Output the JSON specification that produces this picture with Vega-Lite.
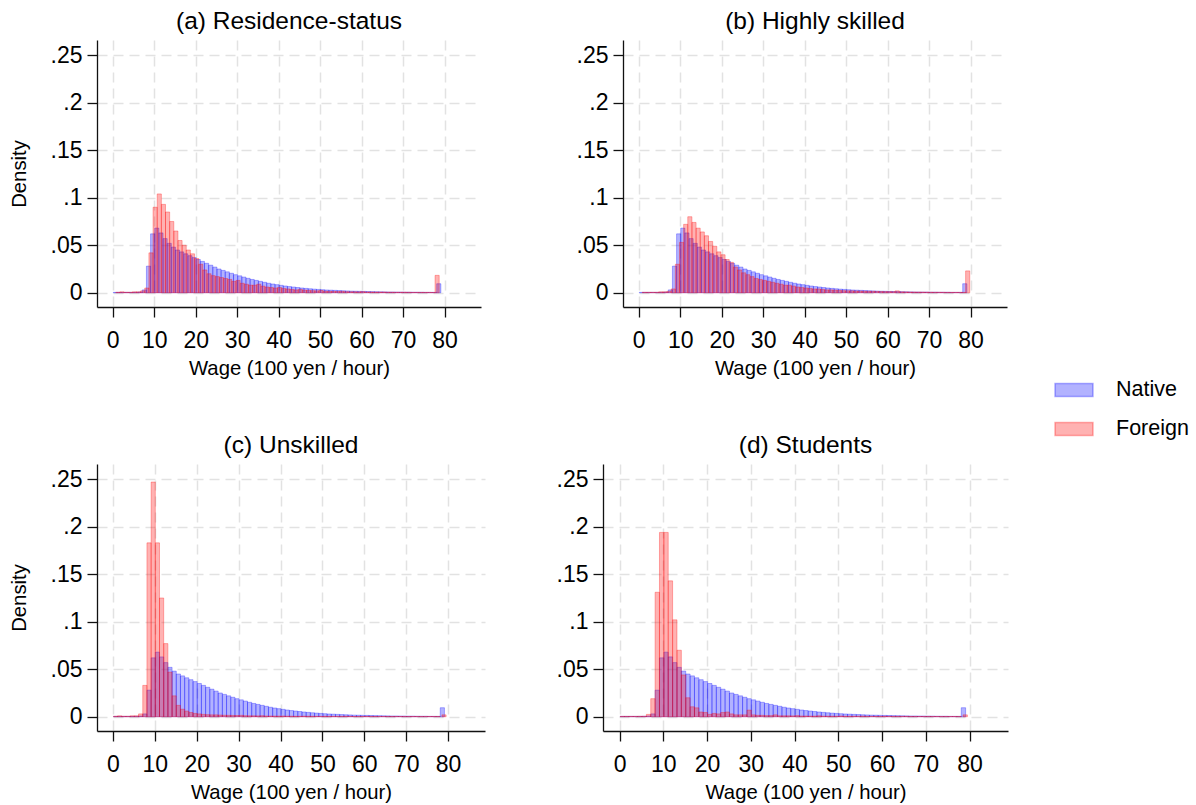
{
"$schema": "https://vega.github.io/schema/vega-lite/v6.json",
"padding": {"left": 9, "top": 8, "right": 5, "bottom": 5},
"background": "white",
"datasets": {
"nat": [
{"s":"Native","x":0,"d":0.0004},{"s":"Native","x":1,"d":0.0004},{"s":"Native","x":2,"d":0.0004},{"s":"Native","x":3,"d":0.0004},{"s":"Native","x":4,"d":0.0004},{"s":"Native","x":5,"d":0.0005},{"s":"Native","x":6,"d":0.0008},{"s":"Native","x":7,"d":0.003},{"s":"Native","x":8,"d":0.028},{"s":"Native","x":9,"d":0.062},
{"s":"Native","x":10,"d":0.068},{"s":"Native","x":11,"d":0.063},{"s":"Native","x":12,"d":0.057},{"s":"Native","x":13,"d":0.052},{"s":"Native","x":14,"d":0.048},{"s":"Native","x":15,"d":0.045},{"s":"Native","x":16,"d":0.043},{"s":"Native","x":17,"d":0.041},{"s":"Native","x":18,"d":0.039},{"s":"Native","x":19,"d":0.037},
{"s":"Native","x":20,"d":0.035},{"s":"Native","x":21,"d":0.033},{"s":"Native","x":22,"d":0.031},{"s":"Native","x":23,"d":0.029},{"s":"Native","x":24,"d":0.027},{"s":"Native","x":25,"d":0.025},{"s":"Native","x":26,"d":0.0235},{"s":"Native","x":27,"d":0.022},{"s":"Native","x":28,"d":0.0205},{"s":"Native","x":29,"d":0.019},
{"s":"Native","x":30,"d":0.0178},{"s":"Native","x":31,"d":0.0165},{"s":"Native","x":32,"d":0.0152},{"s":"Native","x":33,"d":0.014},{"s":"Native","x":34,"d":0.013},{"s":"Native","x":35,"d":0.012},{"s":"Native","x":36,"d":0.011},{"s":"Native","x":37,"d":0.01},{"s":"Native","x":38,"d":0.0092},{"s":"Native","x":39,"d":0.0085},
{"s":"Native","x":40,"d":0.0078},{"s":"Native","x":41,"d":0.0071},{"s":"Native","x":42,"d":0.0065},{"s":"Native","x":43,"d":0.006},{"s":"Native","x":44,"d":0.0055},{"s":"Native","x":45,"d":0.005},{"s":"Native","x":46,"d":0.0046},{"s":"Native","x":47,"d":0.0042},{"s":"Native","x":48,"d":0.0038},{"s":"Native","x":49,"d":0.0035},
{"s":"Native","x":50,"d":0.0032},{"s":"Native","x":51,"d":0.0029},{"s":"Native","x":52,"d":0.0027},{"s":"Native","x":53,"d":0.0025},{"s":"Native","x":54,"d":0.0023},{"s":"Native","x":55,"d":0.0021},{"s":"Native","x":56,"d":0.0019},{"s":"Native","x":57,"d":0.0017},{"s":"Native","x":58,"d":0.0016},{"s":"Native","x":59,"d":0.0015},
{"s":"Native","x":60,"d":0.0014},{"s":"Native","x":61,"d":0.0013},{"s":"Native","x":62,"d":0.0012},{"s":"Native","x":63,"d":0.0011},{"s":"Native","x":64,"d":0.001},{"s":"Native","x":65,"d":0.0009},{"s":"Native","x":66,"d":0.0008},{"s":"Native","x":67,"d":0.0008},{"s":"Native","x":68,"d":0.0007},{"s":"Native","x":69,"d":0.0007},
{"s":"Native","x":70,"d":0.0006},{"s":"Native","x":71,"d":0.0006},{"s":"Native","x":72,"d":0.0005},{"s":"Native","x":73,"d":0.0005},{"s":"Native","x":74,"d":0.0005},{"s":"Native","x":75,"d":0.0004},{"s":"Native","x":76,"d":0.0004},{"s":"Native","x":77,"d":0.0004},{"s":"Native","x":78,"d":0.0095}
],
"fa": [
{"s":"Foreign","x":0.6,"d":0.0005},{"s":"Foreign","x":1.6,"d":0.001},{"s":"Foreign","x":2.6,"d":0.0005},{"s":"Foreign","x":3.6,"d":0.0005},{"s":"Foreign","x":4.6,"d":0.001},{"s":"Foreign","x":5.6,"d":0.001},{"s":"Foreign","x":6.6,"d":0.002},{"s":"Foreign","x":7.6,"d":0.005},{"s":"Foreign","x":8.6,"d":0.042},{"s":"Foreign","x":9.6,"d":0.09},
{"s":"Foreign","x":10.6,"d":0.104},{"s":"Foreign","x":11.6,"d":0.093},{"s":"Foreign","x":12.6,"d":0.085},{"s":"Foreign","x":13.6,"d":0.075},{"s":"Foreign","x":14.6,"d":0.065},{"s":"Foreign","x":15.6,"d":0.055},{"s":"Foreign","x":16.6,"d":0.05},{"s":"Foreign","x":17.6,"d":0.045},{"s":"Foreign","x":18.6,"d":0.041},{"s":"Foreign","x":19.6,"d":0.036},
{"s":"Foreign","x":20.6,"d":0.03},{"s":"Foreign","x":21.6,"d":0.024},{"s":"Foreign","x":22.6,"d":0.02},{"s":"Foreign","x":23.6,"d":0.018},{"s":"Foreign","x":24.6,"d":0.017},{"s":"Foreign","x":25.6,"d":0.016},{"s":"Foreign","x":26.6,"d":0.015},{"s":"Foreign","x":27.6,"d":0.014},{"s":"Foreign","x":28.6,"d":0.012},{"s":"Foreign","x":29.6,"d":0.013},
{"s":"Foreign","x":30.6,"d":0.01},{"s":"Foreign","x":31.6,"d":0.009},{"s":"Foreign","x":32.6,"d":0.008},{"s":"Foreign","x":33.6,"d":0.008},{"s":"Foreign","x":34.6,"d":0.009},{"s":"Foreign","x":35.6,"d":0.007},{"s":"Foreign","x":36.6,"d":0.006},{"s":"Foreign","x":37.6,"d":0.0055},{"s":"Foreign","x":38.6,"d":0.005},{"s":"Foreign","x":39.6,"d":0.0055},
{"s":"Foreign","x":40.6,"d":0.0045},{"s":"Foreign","x":41.6,"d":0.004},{"s":"Foreign","x":42.6,"d":0.0035},{"s":"Foreign","x":43.6,"d":0.003},{"s":"Foreign","x":44.6,"d":0.0035},{"s":"Foreign","x":45.6,"d":0.0028},{"s":"Foreign","x":46.6,"d":0.0025},{"s":"Foreign","x":47.6,"d":0.0022},{"s":"Foreign","x":48.6,"d":0.002},{"s":"Foreign","x":49.6,"d":0.0024},
{"s":"Foreign","x":50.6,"d":0.0016},{"s":"Foreign","x":51.6,"d":0.0015},{"s":"Foreign","x":52.6,"d":0.0014},{"s":"Foreign","x":53.6,"d":0.0013},{"s":"Foreign","x":54.6,"d":0.0015},{"s":"Foreign","x":55.6,"d":0.0011},{"s":"Foreign","x":56.6,"d":0.001},{"s":"Foreign","x":57.6,"d":0.001},{"s":"Foreign","x":58.6,"d":0.0009},{"s":"Foreign","x":59.6,"d":0.0012},
{"s":"Foreign","x":60.6,"d":0.0008},{"s":"Foreign","x":61.6,"d":0.0008},{"s":"Foreign","x":62.6,"d":0.0007},{"s":"Foreign","x":63.6,"d":0.0007},{"s":"Foreign","x":64.6,"d":0.0008},{"s":"Foreign","x":65.6,"d":0.0006},{"s":"Foreign","x":66.6,"d":0.0006},{"s":"Foreign","x":67.6,"d":0.0005},{"s":"Foreign","x":68.6,"d":0.0005},{"s":"Foreign","x":69.6,"d":0.0006},
{"s":"Foreign","x":70.6,"d":0.0005},{"s":"Foreign","x":71.6,"d":0.0004},{"s":"Foreign","x":72.6,"d":0.0004},{"s":"Foreign","x":73.6,"d":0.0004},{"s":"Foreign","x":74.6,"d":0.0004},{"s":"Foreign","x":75.6,"d":0.0004},{"s":"Foreign","x":76.6,"d":0.0003},{"s":"Foreign","x":77.6,"d":0.0183}
],
"fb": [
{"s":"Foreign","x":0.7,"d":0.0005},{"s":"Foreign","x":1.7,"d":0.0005},{"s":"Foreign","x":2.7,"d":0.0005},{"s":"Foreign","x":3.7,"d":0.0005},{"s":"Foreign","x":4.7,"d":0.001},{"s":"Foreign","x":5.7,"d":0.001},{"s":"Foreign","x":6.7,"d":0.0015},{"s":"Foreign","x":7.7,"d":0.004},{"s":"Foreign","x":8.7,"d":0.03},{"s":"Foreign","x":9.7,"d":0.053},
{"s":"Foreign","x":10.7,"d":0.072},{"s":"Foreign","x":11.7,"d":0.08},{"s":"Foreign","x":12.7,"d":0.074},{"s":"Foreign","x":13.7,"d":0.068},{"s":"Foreign","x":14.7,"d":0.064},{"s":"Foreign","x":15.7,"d":0.06},{"s":"Foreign","x":16.7,"d":0.054},{"s":"Foreign","x":17.7,"d":0.049},{"s":"Foreign","x":18.7,"d":0.043},{"s":"Foreign","x":19.7,"d":0.04},
{"s":"Foreign","x":20.7,"d":0.035},{"s":"Foreign","x":21.7,"d":0.032},{"s":"Foreign","x":22.7,"d":0.027},{"s":"Foreign","x":23.7,"d":0.024},{"s":"Foreign","x":24.7,"d":0.021},{"s":"Foreign","x":25.7,"d":0.019},{"s":"Foreign","x":26.7,"d":0.017},{"s":"Foreign","x":27.7,"d":0.015},{"s":"Foreign","x":28.7,"d":0.014},{"s":"Foreign","x":29.7,"d":0.013},
{"s":"Foreign","x":30.7,"d":0.012},{"s":"Foreign","x":31.7,"d":0.011},{"s":"Foreign","x":32.7,"d":0.01},{"s":"Foreign","x":33.7,"d":0.009},{"s":"Foreign","x":34.7,"d":0.008},{"s":"Foreign","x":35.7,"d":0.008},{"s":"Foreign","x":36.7,"d":0.007},{"s":"Foreign","x":37.7,"d":0.006},{"s":"Foreign","x":38.7,"d":0.0055},{"s":"Foreign","x":39.7,"d":0.005},
{"s":"Foreign","x":40.7,"d":0.0045},{"s":"Foreign","x":41.7,"d":0.004},{"s":"Foreign","x":42.7,"d":0.004},{"s":"Foreign","x":43.7,"d":0.0035},{"s":"Foreign","x":44.7,"d":0.003},{"s":"Foreign","x":45.7,"d":0.003},{"s":"Foreign","x":46.7,"d":0.0027},{"s":"Foreign","x":47.7,"d":0.0025},{"s":"Foreign","x":48.7,"d":0.0022},{"s":"Foreign","x":49.7,"d":0.002},
{"s":"Foreign","x":50.7,"d":0.002},{"s":"Foreign","x":51.7,"d":0.0018},{"s":"Foreign","x":52.7,"d":0.0017},{"s":"Foreign","x":53.7,"d":0.0016},{"s":"Foreign","x":54.7,"d":0.0015},{"s":"Foreign","x":55.7,"d":0.0015},{"s":"Foreign","x":56.7,"d":0.0014},{"s":"Foreign","x":57.7,"d":0.0013},{"s":"Foreign","x":58.7,"d":0.0012},{"s":"Foreign","x":59.7,"d":0.0012},
{"s":"Foreign","x":60.7,"d":0.0011},{"s":"Foreign","x":61.7,"d":0.002},{"s":"Foreign","x":62.7,"d":0.001},{"s":"Foreign","x":63.7,"d":0.0009},{"s":"Foreign","x":64.7,"d":0.0008},{"s":"Foreign","x":65.7,"d":0.0008},{"s":"Foreign","x":66.7,"d":0.0007},{"s":"Foreign","x":67.7,"d":0.0007},{"s":"Foreign","x":68.7,"d":0.0006},{"s":"Foreign","x":69.7,"d":0.0006},
{"s":"Foreign","x":70.7,"d":0.0005},{"s":"Foreign","x":71.7,"d":0.0005},{"s":"Foreign","x":72.7,"d":0.0005},{"s":"Foreign","x":73.7,"d":0.0004},{"s":"Foreign","x":74.7,"d":0.0004},{"s":"Foreign","x":75.7,"d":0.0004},{"s":"Foreign","x":76.7,"d":0.0004},{"s":"Foreign","x":77.7,"d":0.0004},{"s":"Foreign","x":78.7,"d":0.023}
],
"fc": [
{"s":"Foreign","x":0,"d":0.0005},{"s":"Foreign","x":1,"d":0.001},{"s":"Foreign","x":2,"d":0.0005},{"s":"Foreign","x":3,"d":0.0005},{"s":"Foreign","x":4,"d":0.001},{"s":"Foreign","x":5,"d":0.001},{"s":"Foreign","x":6,"d":0.003},{"s":"Foreign","x":7,"d":0.033},{"s":"Foreign","x":8,"d":0.183},{"s":"Foreign","x":9,"d":0.247},
{"s":"Foreign","x":10,"d":0.183},{"s":"Foreign","x":11,"d":0.125},{"s":"Foreign","x":12,"d":0.077},{"s":"Foreign","x":13,"d":0.047},{"s":"Foreign","x":14,"d":0.022},{"s":"Foreign","x":15,"d":0.012},{"s":"Foreign","x":16,"d":0.008},{"s":"Foreign","x":17,"d":0.006},{"s":"Foreign","x":18,"d":0.0045},{"s":"Foreign","x":19,"d":0.0035},
{"s":"Foreign","x":20,"d":0.003},{"s":"Foreign","x":21,"d":0.0025},{"s":"Foreign","x":22,"d":0.0022},{"s":"Foreign","x":23,"d":0.002},{"s":"Foreign","x":24,"d":0.002},{"s":"Foreign","x":25,"d":0.0018},{"s":"Foreign","x":26,"d":0.0016},{"s":"Foreign","x":27,"d":0.0015},{"s":"Foreign","x":28,"d":0.0014},{"s":"Foreign","x":29,"d":0.0013},
{"s":"Foreign","x":30,"d":0.0015},{"s":"Foreign","x":31,"d":0.0011},{"s":"Foreign","x":32,"d":0.001},{"s":"Foreign","x":33,"d":0.001},{"s":"Foreign","x":34,"d":0.0009},{"s":"Foreign","x":35,"d":0.0011},{"s":"Foreign","x":36,"d":0.0008},{"s":"Foreign","x":37,"d":0.0008},{"s":"Foreign","x":38,"d":0.0007},{"s":"Foreign","x":39,"d":0.0007},
{"s":"Foreign","x":40,"d":0.0008},{"s":"Foreign","x":41,"d":0.0006},{"s":"Foreign","x":42,"d":0.0006},{"s":"Foreign","x":43,"d":0.0005},{"s":"Foreign","x":44,"d":0.0005},{"s":"Foreign","x":45,"d":0.0006},{"s":"Foreign","x":46,"d":0.0005},{"s":"Foreign","x":47,"d":0.0005},{"s":"Foreign","x":48,"d":0.0004},{"s":"Foreign","x":49,"d":0.0004},
{"s":"Foreign","x":50,"d":0.0005},{"s":"Foreign","x":51,"d":0.0004},{"s":"Foreign","x":52,"d":0.0004},{"s":"Foreign","x":53,"d":0.0004},{"s":"Foreign","x":54,"d":0.0004},{"s":"Foreign","x":55,"d":0.0005},{"s":"Foreign","x":56,"d":0.0004},{"s":"Foreign","x":57,"d":0.0003},{"s":"Foreign","x":58,"d":0.0003},{"s":"Foreign","x":59,"d":0.0003},
{"s":"Foreign","x":60,"d":0.0004},{"s":"Foreign","x":61,"d":0.0003},{"s":"Foreign","x":62,"d":0.0003},{"s":"Foreign","x":63,"d":0.0003},{"s":"Foreign","x":64,"d":0.0003},{"s":"Foreign","x":65,"d":0.0003},{"s":"Foreign","x":66,"d":0.0003},{"s":"Foreign","x":67,"d":0.0003},{"s":"Foreign","x":68,"d":0.0003},{"s":"Foreign","x":69,"d":0.0003},
{"s":"Foreign","x":70,"d":0.0003},{"s":"Foreign","x":71,"d":0.0003},{"s":"Foreign","x":72,"d":0.0003},{"s":"Foreign","x":73,"d":0.0003},{"s":"Foreign","x":74,"d":0.0003},{"s":"Foreign","x":75,"d":0.0003},{"s":"Foreign","x":76,"d":0.0003},{"s":"Foreign","x":77,"d":0.0003},{"s":"Foreign","x":78.4,"d":0.002}
],
"fd": [
{"s":"Foreign","x":0,"d":0.0004},{"s":"Foreign","x":1,"d":0.0004},{"s":"Foreign","x":2,"d":0.0004},{"s":"Foreign","x":3,"d":0.0004},{"s":"Foreign","x":4,"d":0.0005},{"s":"Foreign","x":5,"d":0.0005},{"s":"Foreign","x":6,"d":0.0025},{"s":"Foreign","x":7,"d":0.019},{"s":"Foreign","x":8,"d":0.131},{"s":"Foreign","x":9,"d":0.194},
{"s":"Foreign","x":10,"d":0.194},{"s":"Foreign","x":11,"d":0.143},{"s":"Foreign","x":12,"d":0.102},{"s":"Foreign","x":13,"d":0.07},{"s":"Foreign","x":14,"d":0.044},{"s":"Foreign","x":15,"d":0.02},{"s":"Foreign","x":16,"d":0.0105},{"s":"Foreign","x":17,"d":0.0094},{"s":"Foreign","x":18,"d":0.005},{"s":"Foreign","x":19,"d":0.0045},
{"s":"Foreign","x":20,"d":0.0025},{"s":"Foreign","x":21,"d":0.0035},{"s":"Foreign","x":22,"d":0.003},{"s":"Foreign","x":23,"d":0.0045},{"s":"Foreign","x":24,"d":0.005},{"s":"Foreign","x":25,"d":0.003},{"s":"Foreign","x":26,"d":0.002},{"s":"Foreign","x":27,"d":0.002},{"s":"Foreign","x":28,"d":0.002},{"s":"Foreign","x":29,"d":0.007},
{"s":"Foreign","x":30,"d":0.002},{"s":"Foreign","x":31,"d":0.0015},{"s":"Foreign","x":32,"d":0.0015},{"s":"Foreign","x":33,"d":0.0012},{"s":"Foreign","x":34,"d":0.0012},{"s":"Foreign","x":35,"d":0.002},{"s":"Foreign","x":36,"d":0.001},{"s":"Foreign","x":37,"d":0.001},{"s":"Foreign","x":38,"d":0.001},{"s":"Foreign","x":39,"d":0.0009},
{"s":"Foreign","x":40,"d":0.0012},{"s":"Foreign","x":41,"d":0.0008},{"s":"Foreign","x":42,"d":0.0008},{"s":"Foreign","x":43,"d":0.0007},{"s":"Foreign","x":44,"d":0.0007},{"s":"Foreign","x":45,"d":0.001},{"s":"Foreign","x":46,"d":0.0006},{"s":"Foreign","x":47,"d":0.0006},{"s":"Foreign","x":48,"d":0.0006},{"s":"Foreign","x":49,"d":0.0005},
{"s":"Foreign","x":50,"d":0.0008},{"s":"Foreign","x":51,"d":0.0005},{"s":"Foreign","x":52,"d":0.0005},{"s":"Foreign","x":53,"d":0.0005},{"s":"Foreign","x":54,"d":0.0005},{"s":"Foreign","x":55,"d":0.0006},{"s":"Foreign","x":56,"d":0.0004},{"s":"Foreign","x":57,"d":0.0004},{"s":"Foreign","x":58,"d":0.0004},{"s":"Foreign","x":59,"d":0.0004},
{"s":"Foreign","x":60,"d":0.0005},{"s":"Foreign","x":61,"d":0.0004},{"s":"Foreign","x":62,"d":0.0004},{"s":"Foreign","x":63,"d":0.0004},{"s":"Foreign","x":64,"d":0.0004},{"s":"Foreign","x":65,"d":0.0004},{"s":"Foreign","x":66,"d":0.0003},{"s":"Foreign","x":67,"d":0.0003},{"s":"Foreign","x":68,"d":0.0003},{"s":"Foreign","x":69,"d":0.0003},
{"s":"Foreign","x":70,"d":0.0004},{"s":"Foreign","x":71,"d":0.0003},{"s":"Foreign","x":72,"d":0.0003},{"s":"Foreign","x":73,"d":0.0003},{"s":"Foreign","x":74,"d":0.0003},{"s":"Foreign","x":75,"d":0.0003},{"s":"Foreign","x":76,"d":0.0003},{"s":"Foreign","x":77,"d":0.0003},{"s":"Foreign","x":78.4,"d":0.002}
]
},
"vconcat": [
{"hconcat": [
{"width": 384, "height": 267, "title": "(a) Residence-status",
 "encoding": {
  "x": {"field": "x", "type": "quantitative", "bin": {"binned": true, "step": 1}, "scale": {"domain": [-3.8, 88.8], "nice": false, "zero": false}, "axis": {"values": [0,10,20,30,40,50,60,70,80], "format": "d", "title": "Wage (100 yen / hour)"}},
  "y": {"field": "d", "type": "quantitative", "scale": {"domain": [-0.015, 0.266], "nice": false, "zero": false}, "axis": {"values": [0,0.05,0.1,0.15,0.2,0.25], "labelExpr": "datum.value == 0 ? '0' : substring(format(datum.value, '.2~f'), 1)", "title": "Density"}},
  "y2": {"datum": 0},
  "fill": {"field": "s", "type": "nominal", "scale": {"domain": ["Native", "Foreign"], "range": ["rgba(0,0,255,0.3)", "rgba(255,0,0,0.3)"]}, "legend": {"title": null, "orient": "none", "legendX": 957, "legendY": 330}},
  "stroke": {"field": "s", "type": "nominal", "scale": {"domain": ["Native", "Foreign"], "range": ["rgba(0,0,255,0.3)", "rgba(255,0,0,0.3)"]}, "legend": {"title": null, "orient": "none", "legendX": 957, "legendY": 330}}
 },
 "layer": [
  {"data": {"name": "nat"}, "mark": {"type": "bar", "binSpacing": 0, "strokeWidth": 1}},
  {"data": {"name": "fa"}, "mark": {"type": "bar", "binSpacing": 0, "strokeWidth": 1}}
 ]},
{"width": 384, "height": 267, "title": "(b) Highly skilled",
 "encoding": {
  "x": {"field": "x", "type": "quantitative", "bin": {"binned": true, "step": 1}, "scale": {"domain": [-3.8, 88.8], "nice": false, "zero": false}, "axis": {"values": [0,10,20,30,40,50,60,70,80], "format": "d", "title": "Wage (100 yen / hour)"}},
  "y": {"field": "d", "type": "quantitative", "scale": {"domain": [-0.015, 0.266], "nice": false, "zero": false}, "axis": {"values": [0,0.05,0.1,0.15,0.2,0.25], "labelExpr": "datum.value == 0 ? '0' : substring(format(datum.value, '.2~f'), 1)", "title": null}},
  "y2": {"datum": 0},
  "fill": {"field": "s", "type": "nominal", "scale": {"domain": ["Native", "Foreign"], "range": ["rgba(0,0,255,0.3)", "rgba(255,0,0,0.3)"]}, "legend": {"title": null, "orient": "none", "legendX": 957, "legendY": 330}},
  "stroke": {"field": "s", "type": "nominal", "scale": {"domain": ["Native", "Foreign"], "range": ["rgba(0,0,255,0.3)", "rgba(255,0,0,0.3)"]}, "legend": {"title": null, "orient": "none", "legendX": 957, "legendY": 330}}
 },
 "layer": [
  {"data": {"name": "nat"}, "mark": {"type": "bar", "binSpacing": 0, "strokeWidth": 1}},
  {"data": {"name": "fb"}, "mark": {"type": "bar", "binSpacing": 0, "strokeWidth": 1}}
 ]}
], "spacing": 95},
{"hconcat": [
{"width": 388, "height": 267, "title": "(c) Unskilled",
 "encoding": {
  "x": {"field": "x", "type": "quantitative", "bin": {"binned": true, "step": 1}, "scale": {"domain": [-3.8, 88.8], "nice": false, "zero": false}, "axis": {"values": [0,10,20,30,40,50,60,70,80], "format": "d", "title": "Wage (100 yen / hour)"}},
  "y": {"field": "d", "type": "quantitative", "scale": {"domain": [-0.015, 0.266], "nice": false, "zero": false}, "axis": {"values": [0,0.05,0.1,0.15,0.2,0.25], "labelExpr": "datum.value == 0 ? '0' : substring(format(datum.value, '.2~f'), 1)", "title": "Density"}},
  "y2": {"datum": 0},
  "fill": {"field": "s", "type": "nominal", "scale": {"domain": ["Native", "Foreign"], "range": ["rgba(0,0,255,0.3)", "rgba(255,0,0,0.3)"]}, "legend": {"title": null, "orient": "none", "legendX": 957, "legendY": 330}},
  "stroke": {"field": "s", "type": "nominal", "scale": {"domain": ["Native", "Foreign"], "range": ["rgba(0,0,255,0.3)", "rgba(255,0,0,0.3)"]}, "legend": {"title": null, "orient": "none", "legendX": 957, "legendY": 330}}
 },
 "layer": [
  {"data": {"name": "nat"}, "mark": {"type": "bar", "binSpacing": 0, "strokeWidth": 1}},
  {"data": {"name": "fc"}, "mark": {"type": "bar", "binSpacing": 0, "strokeWidth": 1}}
 ]},
{"width": 405, "height": 267, "title": "(d) Students",
 "encoding": {
  "x": {"field": "x", "type": "quantitative", "bin": {"binned": true, "step": 1}, "scale": {"domain": [-3.8, 88.8], "nice": false, "zero": false}, "axis": {"values": [0,10,20,30,40,50,60,70,80], "format": "d", "title": "Wage (100 yen / hour)"}},
  "y": {"field": "d", "type": "quantitative", "scale": {"domain": [-0.015, 0.266], "nice": false, "zero": false}, "axis": {"values": [0,0.05,0.1,0.15,0.2,0.25], "labelExpr": "datum.value == 0 ? '0' : substring(format(datum.value, '.2~f'), 1)", "title": null}},
  "y2": {"datum": 0},
  "fill": {"field": "s", "type": "nominal", "scale": {"domain": ["Native", "Foreign"], "range": ["rgba(0,0,255,0.3)", "rgba(255,0,0,0.3)"]}, "legend": {"title": null, "orient": "none", "legendX": 957, "legendY": 330}},
  "stroke": {"field": "s", "type": "nominal", "scale": {"domain": ["Native", "Foreign"], "range": ["rgba(0,0,255,0.3)", "rgba(255,0,0,0.3)"]}, "legend": {"title": null, "orient": "none", "legendX": 957, "legendY": 330}}
 },
 "layer": [
  {"data": {"name": "nat"}, "mark": {"type": "bar", "binSpacing": 0, "strokeWidth": 1}},
  {"data": {"name": "fd"}, "mark": {"type": "bar", "binSpacing": 0, "strokeWidth": 1}}
 ]}
], "spacing": 71}
],
"spacing": 53,
"config": {
 "font": "Liberation Sans",
 "view": {"stroke": null},
 "title": {"font": "Liberation Sans", "fontSize": 24.5, "fontWeight": "normal", "color": "#000", "anchor": "middle", "offset": 6},
 "axis": {"labelFont": "Liberation Sans", "titleFont": "Liberation Sans", "labelFontSize": 23, "titleFontSize": 20.3, "titleFontWeight": "normal", "labelColor": "#000", "titleColor": "#000", "domainColor": "#111", "tickColor": "#111", "domainWidth": 1.3, "tickWidth": 1.3, "tickSize": 10, "grid": true, "gridColor": "#e2e2e2", "gridDash": [10, 6], "gridWidth": 1.5, "labelFlush": false, "labelOverlap": false},
 "axisX": {"labelPadding": 12, "titlePadding": 6},
 "axisY": {"labelPadding": 5, "titlePadding": 21},
 "legend": {"labelFont": "Liberation Sans", "labelFontSize": 21.5, "labelColor": "#000", "symbolSize": 1444, "symbolType": "M-1,-0.34L1,-0.34L1,0.34L-1,0.34Z", "symbolStrokeWidth": 1.5, "labelOffset": 22, "rowPadding": 8, "padding": 0}
}
}
